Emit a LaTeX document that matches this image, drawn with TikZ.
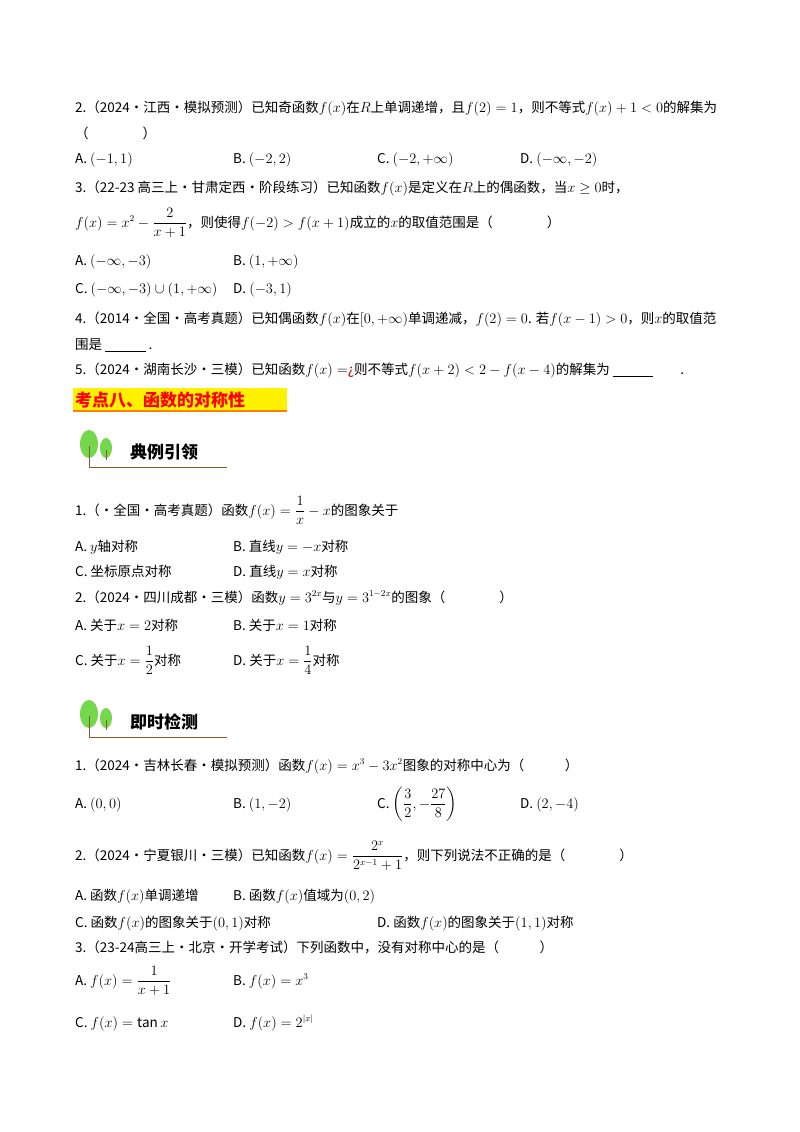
\documentclass[tikz,border=0pt]{standalone}
\usepackage{amsmath}
\usepackage{fontspec}
\setmainfont{Noto Sans CJK SC}
\begin{document}
\begin{tikzpicture}[x=1pt,y=-1pt,
 t/.style={anchor=base west,inner sep=0pt,font=\fontsize{13.5}{15}\selectfont},
 treeg/.style={fill=green!55!olive!70,draw=none}]
\useasboundingbox (0,0) rectangle (800,1132);
\newcommand{\tree}[3]{%
 \fill[treeg] (#1+9,#2-6) ellipse (9 and 14);
 \fill[treeg] (#1+26,#2-2) ellipse (6 and 10);
 \draw[brown!70!black,line width=1pt] (#1+9,#2-4) -- (#1+9,#2+17) -- (#1+147,#2+17);
 \draw[brown!70!black,line width=0.8pt] (#1+26,#2) -- (#1+26,#2+10);
 \node[anchor=west,inner sep=0pt,font=\fontsize{17}{19}\selectfont\bfseries] (#3) at (#1+50,#2+2) {#3};}
\node[t] (q2) at (75,112) {2.（2024•江西•模拟预测）已知奇函数$f(x)$在$R$上单调递增，且$f(2)=1$，则不等式$f(x)+1<0$的解集为};
\node[t] (q2b) at (75,138) {（\hspace{4em}）};
\node[t] (o2a) at (75,163) {A.~$(-1,1)$};
\node[t] (o2b) at (233,163) {B.~$(-2,2)$};
\node[t] (o2c) at (377,163) {C.~$(-2,+\infty)$};
\node[t] (o2d) at (520,163) {D.~$(-\infty,-2)$};
\node[t] (q3) at (75,192) {3.（22-23 高三上•甘肃定西•阶段练习）已知函数$f(x)$是定义在$R$上的偶函数，当$x\geq0$时，};
\node[t] (q3b) at (75,227) {$f(x)=x^2-\dfrac{2}{x+1}$，则使得$f(-2)>f(x+1)$成立的$x$的取值范围是（\hspace{4em}）};
\node[t] (o3a) at (75,265) {A.~$(-\infty,-3)$};
\node[t] (o3b) at (233,265) {B.~$(1,+\infty)$};
\node[t] (o3c) at (75,293) {C.~$(-\infty,-3)\cup(1,+\infty)$};
\node[t] (o3d) at (233,293) {D.~$(-3,1)$};
\node[t] (q4) at (75,323) {4.（2014•全国•高考真题）已知偶函数$f(x)$在$[0,+\infty)$单调递减，$f(2)=0$. 若$f(x-1)>0$，则$x$的取值范};
\node[t] (q4b) at (75,349) {围是 \underline{\hspace{3em}} .};
\node[t] (q5) at (75,374) {5.（2024•湖南长沙•三模）已知函数$f(x)=$\textcolor{red!70!black}{¿}则不等式$f(x+2)<2-f(x-4)$的解集为 \underline{\hspace{3em}}\hspace{2em}.};
\fill[yellow] (73,388) rectangle (287,411);
\fill[orange] (73,410) rectangle (287,412);
\node[anchor=west,inner sep=0pt,font=\fontsize{17}{19}\selectfont\bfseries,text=red] (h8) at (75,400) {考点八、函数的对称性};
\tree{80}{450}{典例引领}
\node[t] (p1) at (75,515) {1.（•全国•高考真题）函数$f(x)=\dfrac{1}{x}-x$的图象关于};
\node[t] (p1a) at (75,551) {A.~$y$轴对称};
\node[t] (p1b) at (233,551) {B.~直线$y=-x$对称};
\node[t] (p1c) at (75,576) {C.~坐标原点对称};
\node[t] (p1d) at (233,576) {D.~直线$y=x$对称};
\node[t] (p2) at (75,602) {2.（2024•四川成都•三模）函数$y=3^{2x}$与$y=3^{1-2x}$的图象（\hspace{4em}）};
\node[t] (p2a) at (75,630) {A.~关于$x=2$对称};
\node[t] (p2b) at (233,630) {B.~关于$x=1$对称};
\node[t] (p2c) at (75,665) {C.~关于$x=\dfrac{1}{2}$对称};
\node[t] (p2d) at (233,665) {D.~关于$x=\dfrac{1}{4}$对称};
\tree{80}{720}{即时检测}
\node[t] (r1) at (75,770) {1.（2024•吉林长春•模拟预测）函数$f(x)=x^3-3x^2$图象的对称中心为（\hspace{3em}）};
\node[t] (r1a) at (75,808) {A.~$(0,0)$};
\node[t] (r1b) at (233,808) {B.~$(1,-2)$};
\node[t] (r1c) at (377,808) {C.~$\left(\dfrac{3}{2},-\dfrac{27}{8}\right)$};
\node[t] (r1d) at (520,808) {D.~$(2,-4)$};
\node[t] (r2) at (75,860) {2.（2024•宁夏银川•三模）已知函数$f(x)=\dfrac{2^x}{2^{x-1}+1}$，则下列说法不正确的是（\hspace{4em}）};
\node[t] (r2a) at (75,900) {A.~函数$f(x)$单调递增};
\node[t] (r2b) at (233,900) {B.~函数$f(x)$值域为$(0,2)$};
\node[t] (r2c) at (75,927) {C.~函数$f(x)$的图象关于$(0,1)$对称};
\node[t] (r2d) at (377,927) {D.~函数$f(x)$的图象关于$(1,1)$对称};
\node[t] (r3) at (75,952) {3.（23-24高三上•北京•开学考试）下列函数中，没有对称中心的是（\hspace{3em}）};
\node[t] (r3a) at (75,985) {A.~$f(x)=\dfrac{1}{x+1}$};
\node[t] (r3b) at (233,985) {B.~$f(x)=x^3$};
\node[t] (r3c) at (75,1027) {C.~$f(x)=\tan x$};
\node[t] (r3d) at (233,1027) {D.~$f(x)=2^{|x|}$};
\end{tikzpicture}
\end{document}
